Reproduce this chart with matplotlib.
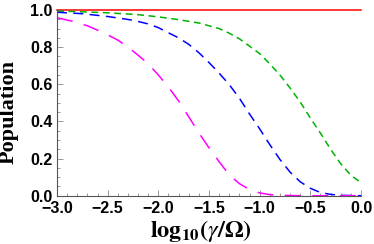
import numpy as np
import matplotlib.pyplot as plt
from matplotlib.ticker import MultipleLocator

plt.rcParams['mathtext.fontset'] = 'stix'

# values
x_mag = [-3.0, -2.85, -2.7, -2.55, -2.4, -2.3, -2.2, -2.1, -2.0, -1.9, -1.8, -1.7,
         -1.6, -1.5, -1.4, -1.3, -1.2, -1.1, -1.0, -0.9, -0.8, -0.6, 0.0]
y_mag = [0.958, 0.94, 0.915, 0.88, 0.838, 0.80, 0.757, 0.71, 0.65, 0.585, 0.51, 0.425,
         0.338, 0.258, 0.183, 0.112, 0.065, 0.033, 0.015, 0.006, 0.002, 0.0, 0.0]

x_blue = [-3.0, -2.75, -2.5, -2.25, -2.1, -2.0, -1.9, -1.8, -1.7, -1.6, -1.5, -1.4,
          -1.3, -1.2, -1.1, -1.0, -0.9, -0.8, -0.7, -0.6, -0.5, -0.4, -0.3, -0.2, 0.0]
y_blue = [0.988, 0.98, 0.965, 0.945, 0.925, 0.905, 0.877, 0.85, 0.815, 0.77, 0.717, 0.66,
          0.598, 0.525, 0.44, 0.36, 0.275, 0.195, 0.127, 0.075, 0.04, 0.017, 0.007, 0.002, 0.0]

x_green = [-3.0, -2.5, -2.2, -2.0, -1.8, -1.6, -1.5, -1.4, -1.3, -1.2, -1.1, -1.0,
           -0.9, -0.8, -0.7, -0.6, -0.5, -0.4, -0.3, -0.2, -0.1, 0.0]
y_green = [0.995, 0.985, 0.975, 0.963, 0.948, 0.93, 0.915, 0.90, 0.875, 0.845, 0.805, 0.765,
           0.71, 0.65, 0.58, 0.505, 0.418, 0.337, 0.25, 0.172, 0.11, 0.07]

x_red = [-3.0, 0.0]
y_red = [1.0, 1.0]

xtick_vals = [-3.0, -2.5, -2.0, -1.5, -1.0, -0.5, 0.0]
xtick_labels = ['\u22123.0', '\u22122.5', '\u22122.0', '\u22121.5', '\u22121.0', '\u22120.5', '0.0']
ytick_vals = [0.0, 0.2, 0.4, 0.6, 0.8, 1.0]
ytick_labels = ['0.0', '0.2', '0.4', '0.6', '0.8', '1.0']

fig = plt.figure(figsize=(3.74, 2.44), dpi=100)
ax = fig.add_axes([57/374, 1 - 195.7/244, 304/374, 185.7/244])

ax.plot(x_red, y_red, color='#ff0000', lw=1.1, clip_on=False)
ax.plot(x_green, y_green, color='#00b300', lw=1.1, dashes=(4.5, 3), clip_on=False)
ax.plot(x_blue, y_blue, color='#0000ff', lw=1.1, dashes=(6.5, 4.2), clip_on=False)
ax.plot(x_mag, y_mag, color='#ff00ff', lw=1.1, dashes=(10.5, 7.5), clip_on=False)

ax.set_xlim(-3.0, 0.0)
ax.set_ylim(0.0, 1.0)
ax.xaxis.set_minor_locator(MultipleLocator(0.1))
ax.yaxis.set_minor_locator(MultipleLocator(0.05))
ax.set_xticks(xtick_vals)
ax.set_xticklabels(xtick_labels)
ax.set_yticks(ytick_vals)
ax.set_yticklabels(ytick_labels)

for s in ['top', 'right']:
    ax.spines[s].set_visible(False)
for s in ['left', 'bottom']:
    ax.spines[s].set_color('#555555')
    ax.spines[s].set_linewidth(0.8)

ax.tick_params(which='both', direction='in', color='#888888', width=0.6)
ax.tick_params(which='major', length=4)
ax.tick_params(which='minor', length=2.5)
ax.tick_params(axis='x', pad=4)
ax.tick_params(axis='y', pad=3)
for lab in ax.get_xticklabels() + ax.get_yticklabels():
    lab.set_fontfamily('Liberation Sans')
    lab.set_fontweight('bold')
    lab.set_fontsize(11.5)

fig.text(8.5/374, 1 - 111.5/244, 'Population', family='Liberation Serif', weight='bold',
         fontsize=16, rotation=90, ha='center', va='center')
fig.text(201/374, 1 - 236.5/244,
         r'$\mathbf{log}_{\mathbf{10}}\mathbf{(}\gamma\mathbf{/}\mathbf{\Omega}\mathbf{)}$',
         fontsize=17.5, ha='center', va='baseline')

fig.savefig('out.png', dpi=100)
